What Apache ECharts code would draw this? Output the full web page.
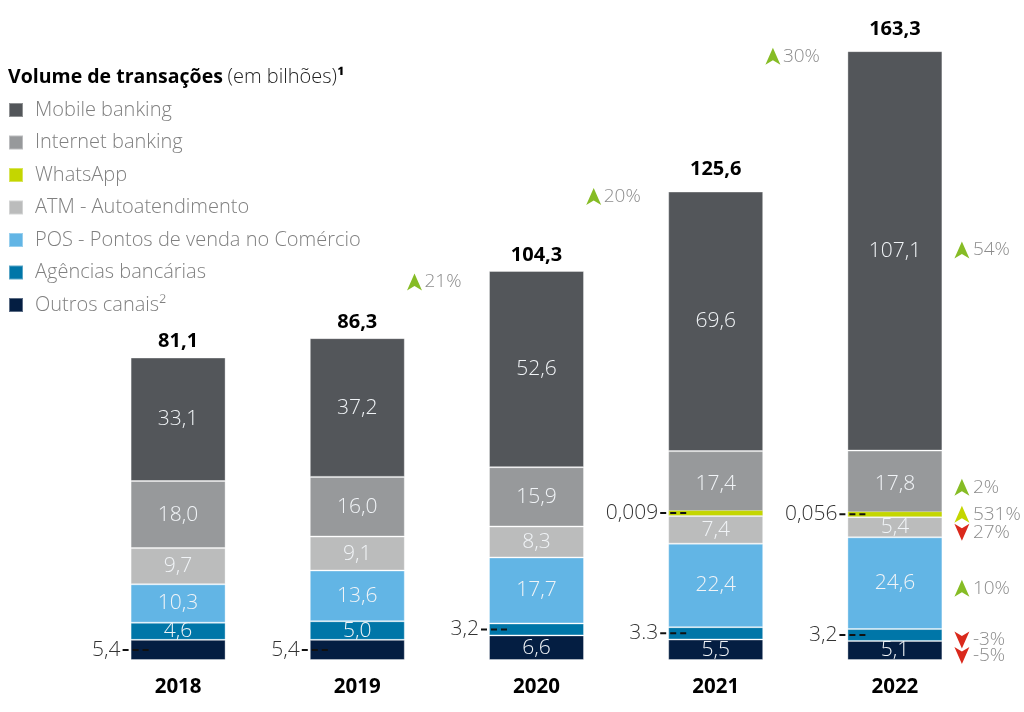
<!DOCTYPE html>
<html><head><meta charset="utf-8">
<script src="https://cdn.jsdelivr.net/npm/echarts@6/dist/echarts.min.js"></script>
<style>html,body{margin:0;padding:0;background:#fff}#c{width:1024px;height:712px}</style>
</head><body><div id="c"></div>
<script>
// ---------- data ----------
const years = ['2018', '2019', '2020', '2021', '2022'];
const outros   = [5.4, 5.4, 6.6, 5.5, 5.1];
const agencias = [4.6, 5.0, 3.2, 3.3, 3.2];
const pos      = [10.3, 13.6, 17.7, 22.4, 24.6];
const atm      = [9.7, 9.1, 8.3, 7.4, 5.4];
const whatsapp = [null, null, null, 0.009, 0.056];
const internet = [18.0, 16.0, 15.9, 17.4, 17.8];
const mobile   = [33.1, 37.2, 52.6, 69.6, 107.1];
const totals   = [81.1, 86.3, 104.3, 125.6, 163.3];
// growth of totals vs previous year (shown left of bar)
const totalGrowthText = [null, null, '21%', '20%', '30%'];
// 2022 vs 2021 per channel (bottom -> top order of stack)
const channelGrowthText = ['-5%', '-3%', '10%', '27%', '531%', '2%', '54%'];
const channelGrowthDir  = ['down', 'down', 'up', 'down', 'up', 'up', 'up'];
// labels written outside the bar with a dashed leader: [yearIndex, seriesIndex, text]
const leaderLabels = [[0, 0, '5,4'], [1, 0, '5,4'], [2, 1, '3,2'], [3, 1, '3.3'], [3, 4, '0,009'], [4, 4, '0,056'], [4, 1, '3,2']];

const seriesNames = ['Outros canais²', 'Agências bancárias', 'POS - Pontos de venda no Comércio', 'ATM - Autoatendimento', 'WhatsApp', 'Internet banking', 'Mobile banking'];
const seriesData = [outros, agencias, pos, atm, whatsapp, internet, mobile];
const seriesColors = ['#041e42', '#0076a8', '#62b5e5', '#bbbcbc', '#c4d600', '#97999b', '#53565a'];

// ---------- render ----------
const FONT = 'Open Sans';
const LIGHT = '300';
const BAR_W = 95;
const MIN_H = 6;
const chart = echarts.init(document.getElementById('c'), null, {renderer: 'canvas'});
const fmt = v => v.toFixed(1).replace('.', ',');
const isLeader = (i, s) => leaderLabels.some(l => l[0] === i && l[1] === s);

// stacked segment pixel extents, mimicking bar layout with barMinHeight
function segments(api, i) {
  let cur = api.coord([i, 0])[1];
  const out = [];
  seriesData.forEach((arr, s) => {
    const v = arr[i];
    if (v == null) { out.push(null); return; }
    let h = api.size([0, v])[1];
    if (s === 4 && h < MIN_H) h = MIN_H;
    out.push([cur - h, cur]);
    cur -= h;
  });
  out.top = cur;
  return out;
}

const annotations = [];
years.forEach((y, i) => annotations.push({kind: 'total', x: i, text: fmt(totals[i])}));
totalGrowthText.forEach((t, i) => { if (t) annotations.push({kind: 'growth', x: i, text: t}); });
channelGrowthText.forEach((t, s) => annotations.push({kind: 'right', x: 4, s: s, text: t, dir: channelGrowthDir[s]}));
leaderLabels.forEach(l => annotations.push({kind: 'leader', x: l[0], s: l[1], text: l[2]}));

function arrow(cx, cy, dir, color) {
  const w = 7.5, h = 8.5, n = 4.5;
  const pts = dir === 'up'
    ? [[cx, cy - h], [cx + w, cy + h], [cx, cy + h - n], [cx - w, cy + h]]
    : [[cx, cy + h], [cx + w, cy - h], [cx, cy - h + n], [cx - w, cy - h]];
  return {type: 'polygon', shape: {points: pts}, style: {fill: color}};
}
const pctStyle = (x, y, text) => ({type: 'text', x: x, y: y, style: {text: text, fill: '#8c8c8c', font: LIGHT + ' 19px "' + FONT + '"', textAlign: 'left', textVerticalAlign: 'middle'}});

function renderItem(params, api) {
  const a = annotations[params.dataIndex];
  const cx = api.coord([a.x, 0])[0];
  const seg = segments(api, a.x);
  if (a.kind === 'total') {
    return {type: 'text', x: cx, y: seg.top - 16, style: {text: a.text, fill: '#000', font: 'bold 20px "' + FONT + '"', textAlign: 'center', textVerticalAlign: 'middle'}};
  }
  if (a.kind === 'growth') {
    const y = seg.top + 11;
    return {type: 'group', children: [arrow(cx - 122, y, 'up', '#86bc25'), pctStyle(cx - 112, y, a.text)]};
  }
  if (a.kind === 'right') {
    const sg = seg[a.s];
    let y = (sg[0] + sg[1]) / 2 + 5;
    if (a.s === 4) y = (sg[0] + sg[1]) / 2;
    if (a.s === 5) y = sg[1] - 24;
    const color = a.dir === 'down' ? '#da291c' : (a.s === 4 ? '#c4d600' : '#86bc25');
    return {type: 'group', children: [arrow(cx + 67, y, a.dir, color), pctStyle(cx + 78, y, a.text)]};
  }
  if (a.kind === 'leader') {
    const sg = seg[a.s];
    const y = (sg[0] + sg[1]) / 2;
    const left = cx - BAR_W / 2;
    return {type: 'group', children: [
      {type: 'line', shape: {x1: left - 8, y1: y, x2: left + 18, y2: y}, style: {stroke: '#111', lineWidth: 2, lineDash: [6, 4]}},
      {type: 'text', x: left - 10, y: y, style: {text: a.text, fill: '#333', font: LIGHT + ' 21px "' + FONT + '"', textAlign: 'right', textVerticalAlign: 'middle'}}
    ]};
  }
  return null;
}

const barSeries = seriesNames.map((name, s) => ({
  name: name,
  type: 'bar',
  stack: 'total',
  barWidth: BAR_W,
  barMinHeight: s === 4 ? MIN_H : 0,
  data: seriesData[s].map((v, i) => ({
    value: v == null ? '-' : v,
    label: {show: s !== 4 && !isLeader(i, s)}
  })),
  itemStyle: {color: seriesColors[s], borderColor: 'rgba(255,255,255,0.35)', borderWidth: 1},
  label: {position: 'inside', color: '#f1f4f7', fontSize: 21, fontWeight: LIGHT, fontFamily: FONT, formatter: p => fmt(p.value)},
  emphasis: {disabled: true},
  z: s === 4 ? 3 : 2
}));

chart.setOption({
  animation: false,
  textStyle: {fontFamily: FONT},
  title: {
    text: '{b|Volume de transações} {n|(em bilhões)}{b|¹}',
    left: 3, top: 62,
    textStyle: {rich: {
      b: {fontFamily: FONT, fontWeight: 'bold', fontSize: 19.5, color: '#000'},
      n: {fontFamily: FONT, fontWeight: LIGHT, fontSize: 20, color: '#222'}
    }}
  },
  legend: {
    orient: 'vertical', left: 3, top: 95,
    itemWidth: 14, itemHeight: 14, itemGap: 12.5,
    icon: 'rect', selectedMode: false,
    data: seriesNames.slice().reverse(),
    textStyle: {fontSize: 20, fontWeight: LIGHT, color: '#808080', fontFamily: FONT, padding: [0, 0, 0, 7]}
  },
  grid: {left: 88.5, right: 39.5, top: 26, bottom: 52},
  xAxis: {
    type: 'category', data: years,
    axisLine: {show: false}, axisTick: {show: false},
    axisLabel: {fontSize: 20.5, fontWeight: 'bold', color: '#000', margin: 17, fontFamily: FONT}
  },
  yAxis: {type: 'value', min: 0, max: 170, show: false, splitLine: {show: false}},
  series: barSeries.concat([{
    type: 'custom', name: 'annotations', clip: false, z: 5,
    renderItem: renderItem,
    data: annotations.map((a, k) => [a.x, k]),
    encode: {x: 0, y: -1},
    silent: true
  }])
});
</script></body></html>
